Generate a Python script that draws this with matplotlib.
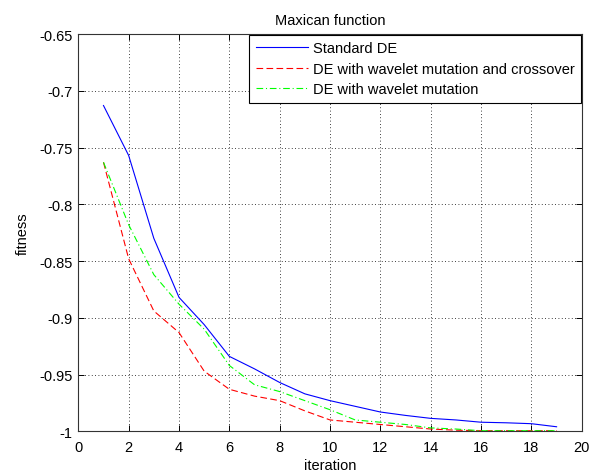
import numpy as np
import matplotlib
matplotlib.use('Agg')
import matplotlib.pyplot as plt

plt.rcParams['font.family'] = ['Liberation Sans', 'DejaVu Sans']

iteration = np.arange(1, 20)

standard_de = [-0.713, -0.757, -0.830, -0.882, -0.906, -0.934, -0.945, -0.957,
               -0.967, -0.973, -0.978, -0.983, -0.986, -0.9886, -0.990, -0.992,
               -0.9925, -0.9933, -0.996]
de_wavelet_cross = [-0.763, -0.848, -0.894, -0.913, -0.947, -0.963, -0.969, -0.973,
                    -0.982, -0.990, -0.992, -0.994, -0.996, -0.998, -0.999, -0.9995,
                    -0.9995, -0.9995, -0.9995]
de_wavelet = [-0.763, -0.818, -0.862, -0.888, -0.910, -0.942, -0.959, -0.965,
              -0.973, -0.981, -0.990, -0.992, -0.994, -0.997, -0.998, -0.9995,
              -0.9995, -0.9995, -0.9995]

xticks = np.arange(0, 21, 2)
yticks = [-1, -0.95, -0.9, -0.85, -0.8, -0.75, -0.7, -0.65]
ytick_labels = ['-1', '-0.95', '-0.9', '-0.85', '-0.8', '-0.75', '-0.7', '-0.65']

fs = 10.5

fig = plt.figure(figsize=(6.01, 4.77), dpi=100)
ax = fig.add_axes([0.1303, 0.0937, 0.968 - 0.1303, 0.9266 - 0.0937])

ax.plot(iteration, standard_de, '-', color='#0000ff', lw=0.8, label='Standard DE')
ax.plot(iteration, de_wavelet_cross, '--', color='#ff0000', lw=0.8,
        dashes=(6, 3), label='DE with wavelet mutation and crossover')
ax.plot(iteration, de_wavelet, '-.', color='#00ff00', lw=0.8,
        dashes=(6, 2.5, 1, 2.5), label='DE with wavelet mutation')

ax.set_xlim(0, 20)
ax.set_ylim(-1, -0.65)
ax.set_xticks(xticks)
ax.set_yticks(yticks)
ax.set_yticklabels(ytick_labels)
ax.tick_params(direction='in', length=4, labelsize=fs, width=0.7, pad=4,
               top=True, right=True)
ax.tick_params(axis='x', pad=6)
ax.grid(True, color='black', linestyle=(0, (1, 3)), linewidth=0.6)
for s in ax.spines.values():
    s.set_linewidth(0.8)
    s.set_color('#333333')

ax.set_xlabel('iteration', fontsize=fs, labelpad=3)
ax.set_ylabel('fitness', fontsize=fs, labelpad=7)
ax.set_title('Maxican function', fontsize=fs, pad=7)

leg = ax.legend(loc='upper right', fontsize=fs, fancybox=False, framealpha=1,
                edgecolor='black', borderaxespad=0.05, handlelength=3.6,
                borderpad=0.45, labelspacing=0.45, handletextpad=0.3)
leg.get_frame().set_linewidth(0.8)

fig.savefig('out.png', dpi=100)
